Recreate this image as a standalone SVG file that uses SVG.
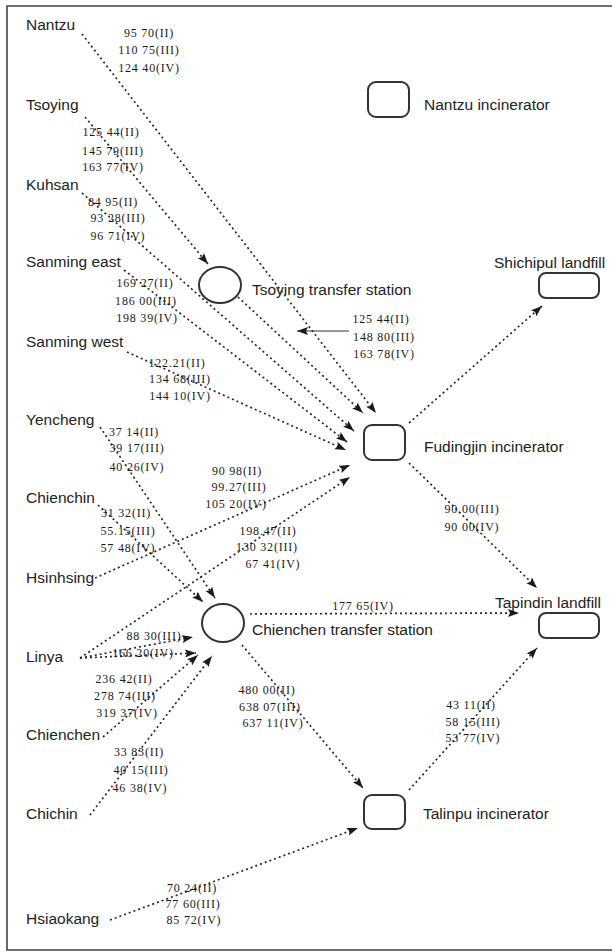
<svg xmlns="http://www.w3.org/2000/svg" width="612" height="952" viewBox="0 0 612 952">
  <style>
    .frame { fill: none; stroke: #444; stroke-width: 1.6; }
    .node { fill: #fff; stroke: #333; stroke-width: 2; }
    .flow { fill: none; stroke: #2a2a2a; stroke-width: 1.7; stroke-dasharray: 2 3; marker-end: url(#head); }
    .ptr { fill: none; stroke: #333; stroke-width: 1.2; marker-end: url(#head); }
    .place { font-family: "Liberation Sans", Arial, sans-serif; font-size: 15.5px; fill: #222; }
    .qty { font-family: "Liberation Serif", "Times New Roman", serif; font-size: 12px; letter-spacing: 0.8px; fill: #1a1a1a; text-anchor: middle; }
  </style>
  <defs>
    <marker id="head" markerUnits="userSpaceOnUse" markerWidth="12" markerHeight="9" refX="11" refY="4" orient="auto">
      <path d="M0,0 L11,4 L0,8 L2,4 z" fill="#1a1a1a"/>
    </marker>
  </defs>

  <rect width="612" height="952" fill="#fff"/>
  <path class="frame" d="M614,6 L7,6 L7,950 L614,950"/>

  <!-- flows between sources, stations and facilities -->
  <g id="connectors">
    <line class="flow" x1="82" y1="34" x2="376" y2="413"/>
    <line class="flow" x1="85" y1="117" x2="208" y2="264"/>
    <line class="flow" x1="82" y1="193" x2="354" y2="431"/>
    <line class="flow" x1="124" y1="270" x2="347" y2="442"/>
    <line class="flow" x1="127" y1="352" x2="346" y2="450"/>
    <line class="flow" x1="238" y1="297" x2="363" y2="413"/>
    <line class="flow" x1="100" y1="427" x2="215" y2="598"/>
    <line class="flow" x1="98" y1="505" x2="203" y2="602"/>
    <line class="flow" x1="95" y1="578" x2="350" y2="465"/>
    <line class="flow" x1="80" y1="658" x2="350" y2="477"/>
    <line class="flow" x1="80" y1="658" x2="193" y2="637"/>
    <line class="flow" x1="80" y1="658" x2="196" y2="653"/>
    <line class="flow" x1="103" y1="737" x2="198" y2="655"/>
    <line class="flow" x1="90" y1="815" x2="212" y2="656"/>
    <line class="flow" x1="250" y1="614" x2="519" y2="613"/>
    <line class="flow" x1="242" y1="645" x2="363" y2="788"/>
    <line class="flow" x1="110" y1="920" x2="358" y2="828"/>
    <line class="flow" x1="409" y1="790" x2="537" y2="648"/>
    <line class="flow" x1="409" y1="423" x2="542" y2="306"/>
    <line class="flow" x1="409" y1="463" x2="537" y2="588"/>
    <line class="ptr" x1="349" y1="331" x2="297" y2="331"/>
  </g>

  <!-- facilities -->
  <g id="nantzu-incinerator">
    <rect class="node" x="368" y="82" width="41" height="35" rx="8"/>
    <text class="place" x="424" y="110">Nantzu incinerator</text>
  </g>
  <g id="tsoying-transfer-station">
    <ellipse class="node" cx="220" cy="285" rx="21" ry="18"/>
    <text class="place" x="252" y="295">Tsoying transfer station</text>
  </g>
  <g id="shichipul-landfill">
    <rect class="node" x="539" y="273" width="60" height="25" rx="7"/>
    <text class="place" x="494" y="268">Shichipul landfill</text>
  </g>
  <g id="fudingjin-incinerator">
    <rect class="node" x="364" y="425" width="41" height="35" rx="8"/>
    <text class="place" x="424" y="452">Fudingjin incinerator</text>
  </g>
  <g id="chienchen-transfer-station">
    <ellipse class="node" cx="223" cy="623" rx="21" ry="19"/>
    <text class="place" x="252" y="635">Chienchen transfer station</text>
  </g>
  <g id="tapindin-landfill">
    <rect class="node" x="539" y="613" width="60" height="25" rx="7"/>
    <text class="place" x="495" y="608">Tapindin landfill</text>
  </g>
  <g id="talinpu-incinerator">
    <rect class="node" x="364" y="795" width="41" height="34" rx="8"/>
    <text class="place" x="423" y="819">Talinpu incinerator</text>
  </g>

  <!-- collection districts -->
  <g id="nantzu"><text class="place" x="26" y="30">Nantzu</text></g>
  <g id="tsoying"><text class="place" x="26" y="110">Tsoying</text></g>
  <g id="kuhsan"><text class="place" x="26" y="190">Kuhsan</text></g>
  <g id="sanming-east"><text class="place" x="26" y="267">Sanming east</text></g>
  <g id="sanming-west"><text class="place" x="26" y="347">Sanming west</text></g>
  <g id="yencheng"><text class="place" x="26" y="425">Yencheng</text></g>
  <g id="chienchin"><text class="place" x="26" y="503">Chienchin</text></g>
  <g id="hsinhsing"><text class="place" x="26" y="583">Hsinhsing</text></g>
  <g id="linya"><text class="place" x="26" y="662">Linya</text></g>
  <g id="chienchen"><text class="place" x="26" y="740">Chienchen</text></g>
  <g id="chichin"><text class="place" x="26" y="819">Chichin</text></g>
  <g id="hsiaokang"><text class="place" x="26" y="924">Hsiaokang</text></g>

  <!-- flow quantities per scenario -->
  <g id="quantities">
    <text class="qty" x="149" y="37">95 70(II)</text>
    <text class="qty" x="149" y="54">110 75(III)</text>
    <text class="qty" x="149" y="72">124 40(IV)</text>

    <text class="qty" x="111" y="136">125 44(II)</text>
    <text class="qty" x="113" y="155">145 79(III)</text>
    <text class="qty" x="113" y="171">163 77(IV)</text>

    <text class="qty" x="113" y="206">84 95(II)</text>
    <text class="qty" x="118" y="222">93 28(III)</text>
    <text class="qty" x="118" y="240">96 71(IV)</text>

    <text class="qty" x="145" y="287">169 27(II)</text>
    <text class="qty" x="146" y="305">186 00(III)</text>
    <text class="qty" x="147" y="322">198 39(IV)</text>

    <text class="qty" x="381" y="323">125 44(II)</text>
    <text class="qty" x="384" y="341">148 80(III)</text>
    <text class="qty" x="384" y="358">163 78(IV)</text>

    <text class="qty" x="177" y="367">122.21(II)</text>
    <text class="qty" x="180" y="383">134 68(III)</text>
    <text class="qty" x="180" y="400">144 10(IV)</text>

    <text class="qty" x="134" y="436">37 14(II)</text>
    <text class="qty" x="137" y="452">39 17(III)</text>
    <text class="qty" x="137" y="471">40 26(IV)</text>

    <text class="qty" x="237" y="475">90 98(II)</text>
    <text class="qty" x="239" y="491">99.27(III)</text>
    <text class="qty" x="236" y="508">105 20(IV)</text>

    <text class="qty" x="472" y="513">90.00(III)</text>
    <text class="qty" x="472" y="531">90 00(IV)</text>

    <text class="qty" x="126" y="517">31 32(II)</text>
    <text class="qty" x="128" y="535">55.15(III)</text>
    <text class="qty" x="128" y="552">57 48(IV)</text>

    <text class="qty" x="268" y="535">198.47(II)</text>
    <text class="qty" x="267" y="551">130 32(III)</text>
    <text class="qty" x="273" y="568">67 41(IV)</text>

    <text class="qty" x="363" y="610">177 65(IV)</text>

    <text class="qty" x="154" y="640">88 30(III)</text>
    <text class="qty" x="143" y="657">166 20(IV)</text>

    <text class="qty" x="124" y="683">236 42(II)</text>
    <text class="qty" x="125" y="700">278 74(III)</text>
    <text class="qty" x="127" y="717">319 37(IV)</text>

    <text class="qty" x="267" y="694">480 00(II)</text>
    <text class="qty" x="270" y="711">638 07(III)</text>
    <text class="qty" x="273" y="727">637 11(IV)</text>

    <text class="qty" x="471" y="709">43 11(II)</text>
    <text class="qty" x="473" y="726">58 15(III)</text>
    <text class="qty" x="473" y="742">53 77(IV)</text>

    <text class="qty" x="139" y="756">33 83(II)</text>
    <text class="qty" x="141" y="774">40 15(III)</text>
    <text class="qty" x="140" y="792">46 38(IV)</text>

    <text class="qty" x="192" y="892">70 24(II)</text>
    <text class="qty" x="193" y="908">77 60(III)</text>
    <text class="qty" x="194" y="924">85 72(IV)</text>
  </g>
</svg>
